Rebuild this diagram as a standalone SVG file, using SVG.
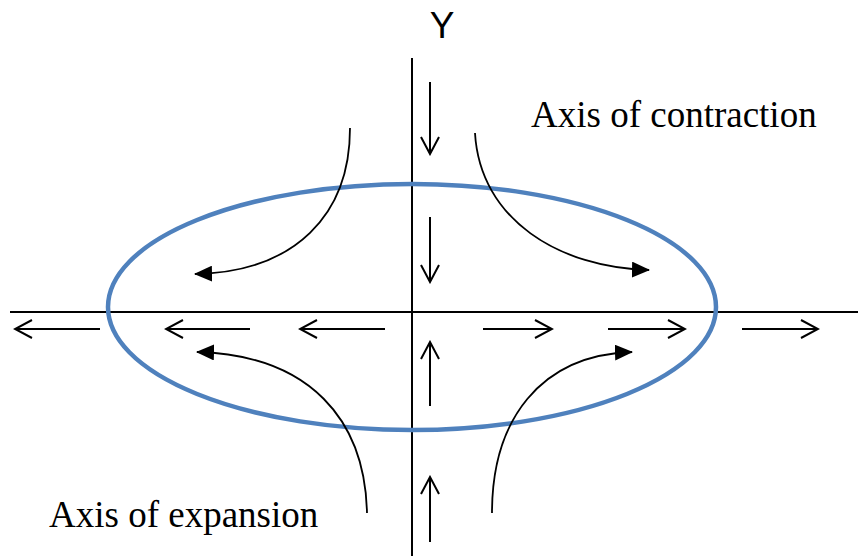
<svg xmlns="http://www.w3.org/2000/svg" width="858" height="560" viewBox="0 0 858 560">
<style>
.ax{stroke:#000;stroke-width:2;fill:none}
.sa{stroke:#000;stroke-width:2;fill:none;marker-end:url(#open)}
.ca{stroke:#000;stroke-width:1.8;fill:none;marker-end:url(#solid)}
.lbl{font-family:"Liberation Serif","Times New Roman",serif;font-size:37px;fill:#000}
</style>
<defs>
<marker id="open" viewBox="0 0 20 20" refX="18" refY="10" markerWidth="20" markerHeight="20" markerUnits="userSpaceOnUse" orient="auto">
<path d="M1,1 L18,10 L1,19" fill="none" stroke="#000" stroke-width="2"/>
</marker>
<marker id="solid" viewBox="0 0 18 16" refX="17" refY="8" markerWidth="18" markerHeight="16" markerUnits="userSpaceOnUse" orient="auto">
<path d="M0,0 L18,8 L0,16 Z" fill="#000"/>
</marker>
</defs>
<rect width="858" height="560" fill="#fff"/>
<g id="axes">
<line class="ax" x1="10" y1="312" x2="858" y2="312"/>
<line class="ax" x1="412" y1="58" x2="412" y2="556"/>
</g>
<g id="ellipse">
<ellipse cx="412" cy="307" rx="304" ry="123" fill="none" stroke="#4F81BD" stroke-width="4.5"/>
</g>
<g id="connectors">
<line class="sa" x1="100" y1="329" x2="15" y2="329"/>
<line class="sa" x1="250" y1="329" x2="166" y2="329"/>
<line class="sa" x1="385" y1="329" x2="300" y2="329"/>
<line class="sa" x1="483" y1="329" x2="552" y2="329"/>
<line class="sa" x1="608" y1="329" x2="685" y2="329"/>
<line class="sa" x1="742" y1="329" x2="818" y2="329"/>
<line class="sa" x1="430" y1="82" x2="430" y2="154"/>
<line class="sa" x1="430" y1="217" x2="430" y2="282"/>
<line class="sa" x1="430" y1="406" x2="430" y2="342"/>
<line class="sa" x1="430" y1="542" x2="430" y2="477"/>
<path class="ca" d="M350,128 C350,215 295,272 195,274"/>
<path class="ca" d="M475,133 C480,220 560,268 649,270"/>
<path class="ca" d="M367,513 C365,420 310,355 197,352"/>
<path class="ca" d="M492,513 C492,420 540,355 632,352"/>
</g>
<g id="labels">
<text x="442" y="38" text-anchor="middle" font-family="'Liberation Sans',Arial,sans-serif" font-size="37">Y</text>
<text class="lbl" x="531" y="127">Axis of contraction</text>
<text class="lbl" x="49" y="527">Axis of expansion</text>
</g>
</svg>
